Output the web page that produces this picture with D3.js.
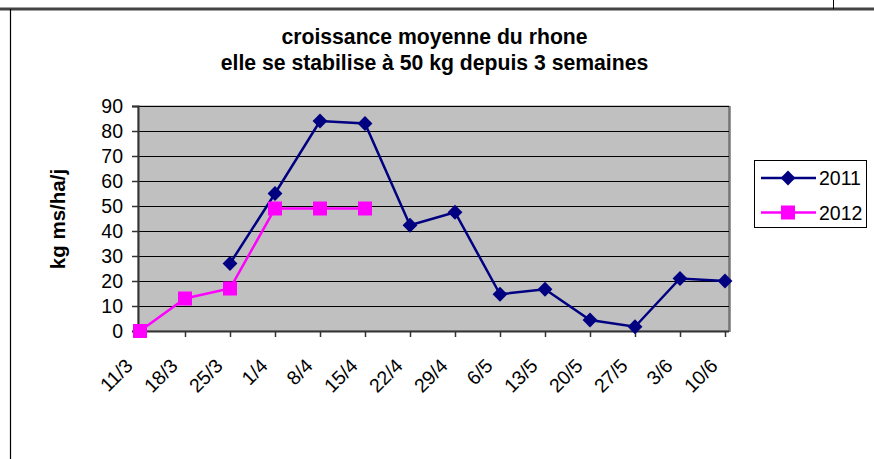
<!DOCTYPE html>
<html><head><meta charset="utf-8">
<script src="https://cdn.jsdelivr.net/npm/d3@7"></script>
<style>
html,body{margin:0;padding:0;background:#fff;}
svg{display:block;font-family:"Liberation Sans",Arial,sans-serif;}
</style></head>
<body>
<svg id="chart" width="874" height="459"></svg>
<script>
const categories = ["11/3","18/3","25/3","1/4","8/4","15/4","22/4","29/4","6/5","13/5","20/5","27/5","3/6","10/6"];
const values2011 = [null,null,27,55,84,83,42.3,47.5,14.7,16.7,4.4,1.7,21,20];
const values2012 = [0,13,17,49,49,49,null,null,null,null,null,null,null,null];
const seriesNames = ["2011","2012"];
const yTicks = [0,10,20,30,40,50,60,70,80,90];
const titleLines = ["croissance moyenne du rhone","elle se stabilise à 50 kg depuis 3 semaines"];
const yTitle = "kg ms/ha/j";

const svg = d3.select("#chart");
const W = 874, H = 459;
const plot = {l:138, r:729, t:106, b:331};
const FS = 19.5;

// outer frame
svg.append("line").attr("x1",0).attr("x2",W).attr("y1",9).attr("y2",9).attr("stroke","#444").attr("stroke-width",3);
svg.append("line").attr("x1",10.5).attr("x2",10.5).attr("y1",9).attr("y2",H).attr("stroke","#000").attr("stroke-width",1.2);
svg.append("line").attr("x1",833.5).attr("x2",833.5).attr("y1",0).attr("y2",9).attr("stroke","#000").attr("stroke-width",1);

// title
const title = svg.append("text").attr("text-anchor","middle").attr("font-weight","bold").attr("font-size",21.2).attr("fill","#000");
titleLines.forEach((t,i)=>title.append("tspan").attr("x",434.5).attr("y",44+i*26).text(t));

const x = d3.scalePoint().domain(categories).range([140,725]);
const y = d3.scaleLinear().domain([0,90]).range([plot.b, plot.t]);

// plot area
svg.append("rect").attr("x",plot.l).attr("y",plot.t).attr("width",plot.r-plot.l).attr("height",plot.b-plot.t)
  .attr("fill","#c0c0c0").attr("stroke","#909090").attr("stroke-width",1);
svg.append("line").attr("x1",plot.r+0.5).attr("x2",plot.r+0.5).attr("y1",plot.t).attr("y2",plot.b+1).attr("stroke","#777").attr("stroke-width",2.5);

// gridlines
svg.append("g").selectAll("line").data(yTicks.filter(d=>d>0)).join("line")
  .attr("x1",plot.l).attr("x2",plot.r).attr("y1",d=>Math.round(y(d))+0.5).attr("y2",d=>Math.round(y(d))+0.5)
  .attr("stroke","#000").attr("stroke-width",1);

// y axis
const yAxis = d3.axisLeft(y).tickValues(yTicks).tickSize(6).tickPadding(9);
const gy = svg.append("g").attr("transform",`translate(${plot.l},0)`).call(yAxis);
gy.select(".domain").attr("stroke","#333").attr("stroke-width",2);
gy.selectAll(".tick line").attr("stroke","#333").attr("stroke-width",1.5);
gy.selectAll("text").attr("font-size",FS).attr("fill","#000").attr("font-family","Liberation Sans, Arial, sans-serif");

// x axis
const xAxis = d3.axisBottom(x).tickSize(6).tickFormat("");
const gx = svg.append("g").attr("transform",`translate(0,${plot.b})`).call(xAxis);
gx.select(".domain").attr("d",`M${plot.l},0.5H${plot.r}`).attr("stroke","#333").attr("stroke-width",2);
gx.selectAll(".tick line").attr("stroke","#333").attr("stroke-width",1.5);
svg.append("g").selectAll("text").data(categories).join("text")
  .attr("transform",d=>`translate(${x(d)-6},367) rotate(-45)`)
  .attr("text-anchor","end").attr("font-size",FS).attr("fill","#000").text(d=>d);

// y title
svg.append("text").attr("transform","translate(65,219) rotate(-90)").attr("text-anchor","middle")
  .attr("font-weight","bold").attr("font-size",20.5).attr("fill","#000").text(yTitle);

// series
const colors = ["#000080","#ff00ff"];
const series = [values2011, values2012];
const line = d3.line().defined(d=>d.v!==null).x(d=>x(d.c)).y(d=>y(d.v));
series.forEach((vals,si)=>{
  const pts = vals.map((v,i)=>({c:categories[i],v}));
  svg.append("path").attr("d",line(pts)).attr("fill","none").attr("stroke",colors[si]).attr("stroke-width",2.5);
  const g = svg.append("g");
  pts.filter(d=>d.v!==null).forEach(d=>{
    if(si===0){
      g.append("path").attr("d",d3.symbol().type(d3.symbolSquare).size(110)())
        .attr("transform",`translate(${x(d.c)},${y(d.v)}) rotate(45)`).attr("fill",colors[si]);
    } else {
      g.append("rect").attr("x",x(d.c)-7).attr("y",y(d.v)-7).attr("width",14).attr("height",14).attr("fill",colors[si]);
    }
  });
});

// legend
const lg = svg.append("g");
lg.append("rect").attr("x",754.5).attr("y",160.5).attr("width",112).attr("height",67).attr("fill","#fff").attr("stroke","#000").attr("stroke-width",1);
seriesNames.forEach((n,i)=>{
  const ly = 178 + i*34.5;
  lg.append("line").attr("x1",761).attr("x2",816).attr("y1",ly).attr("y2",ly).attr("stroke",colors[i]).attr("stroke-width",2.5);
  if(i===0){
    lg.append("path").attr("d",d3.symbol().type(d3.symbolSquare).size(110)()).attr("transform",`translate(788,${ly}) rotate(45)`).attr("fill",colors[i]);
  } else {
    lg.append("rect").attr("x",788-7).attr("y",ly-7).attr("width",14).attr("height",14).attr("fill",colors[i]);
  }
  lg.append("text").attr("x",819).attr("y",ly+7).attr("font-size",FS).attr("fill","#000").text(n);
});
</script>
</body></html>
